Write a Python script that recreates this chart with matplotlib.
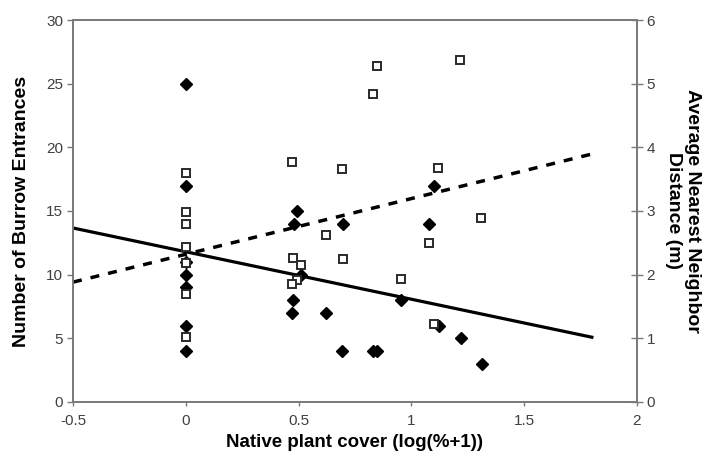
import matplotlib
matplotlib.use("Agg")
import matplotlib.pyplot as plt
import numpy as np

# Burrow entrances (left axis, filled diamonds)
burrow_x = [0, 0, 0, 0, 0, 0, 0,
            0.495, 0.48, 0.512, 0.475, 0.472,
            0.623, 0.697, 0.692, 0.829, 0.847, 0.952, 1.08, 1.102, 1.121, 1.22, 1.312]
burrow_y = [25, 17, 11, 10, 9, 6, 4,
            15, 14, 10, 8, 7,
            7, 14, 4, 4, 4, 8, 14, 17, 6, 5, 3]

# Average nearest neighbor distance (right axis, open squares)
dist_x = [0, 0, 0, 0, 0, 0, 0,
          0.471, 0.475, 0.512, 0.493, 0.471,
          0.62, 0.692, 0.697, 0.829, 0.847, 0.952, 1.08, 1.12, 1.099, 1.217, 1.307]
dist_y = [3.60, 2.98, 2.79, 2.43, 2.18, 1.69, 1.02,
          3.77, 2.26, 2.15, 1.91, 1.86,
          2.63, 3.66, 2.25, 4.83, 5.28, 1.93, 2.49, 3.68, 1.22, 5.37, 2.89]

# Trend lines (slope, intercept) over x range
trend_x = [-0.5, 1.8]
burrow_trend = (-3.73, 11.8)
dist_trend = (0.875, 2.32)

xticks = [-0.5, 0, 0.5, 1, 1.5, 2]
xticklabels = ["-0.5", "0", "0.5", "1", "1.5", "2"]
yticks_left = [0, 5, 10, 15, 20, 25, 30]
yticks_right = [0, 1, 2, 3, 4, 5, 6]

plt.rcParams['font.family'] = ['Liberation Sans', 'DejaVu Sans']

fig = plt.figure(figsize=(7.05, 4.57), dpi=100)
ax = fig.add_axes([0.1035, 0.1204, 0.80, 0.8358])
ax2 = ax.twinx()

gray = '#7a7a7a'
tcol = '#404040'

tx = np.array(trend_x)
ax.plot(tx, burrow_trend[0] * tx + burrow_trend[1], color='black', lw=2.3, zorder=2)
ax2.plot(tx, dist_trend[0] * tx + dist_trend[1], color='black', lw=2.5,
         dashes=(2.6, 2.6), zorder=2)

ax.plot(burrow_x, burrow_y, linestyle='none', marker='D', ms=6.3, mfc='black',
        mec='black', zorder=3)
ax2.plot(dist_x, dist_y, linestyle='none', marker='s', ms=5.5, mfc='white',
         mec='#2a2a2a', mew=1.4, zorder=3)

ax.set_xlim(-0.5, 2)
ax.set_ylim(0, 30)
ax2.set_ylim(0, 6)
ax.set_xticks(xticks)
ax.set_xticklabels(xticklabels)
ax.set_yticks(yticks_left)
ax2.set_yticks(yticks_right)

for a in (ax, ax2):
    for s in a.spines.values():
        s.set_color(gray)
        s.set_linewidth(1.3)
ax.tick_params(axis='x', direction='out', length=3, width=1, color=gray,
               labelsize=11, labelcolor=tcol, pad=6)
ax.tick_params(axis='y', direction='out', length=4, width=1, color=gray,
               labelsize=11, labelcolor=tcol, pad=3)
ax2.tick_params(axis='y', direction='inout', length=8, width=1, color=gray,
                labelsize=11, labelcolor=tcol, pad=3)

ax.set_xlabel('Native plant cover (log(%+1))', fontsize=13.5, fontweight='bold',
              labelpad=4)
ax.set_ylabel('Number of Burrow Entrances', fontsize=14, fontweight='bold',
              labelpad=12)
ax2.set_ylabel('Average Nearest Neighbor\nDistance (m)', fontsize=14,
               fontweight='bold', rotation=270, labelpad=33, linespacing=1.15)

fig.savefig('out.png', dpi=100)
